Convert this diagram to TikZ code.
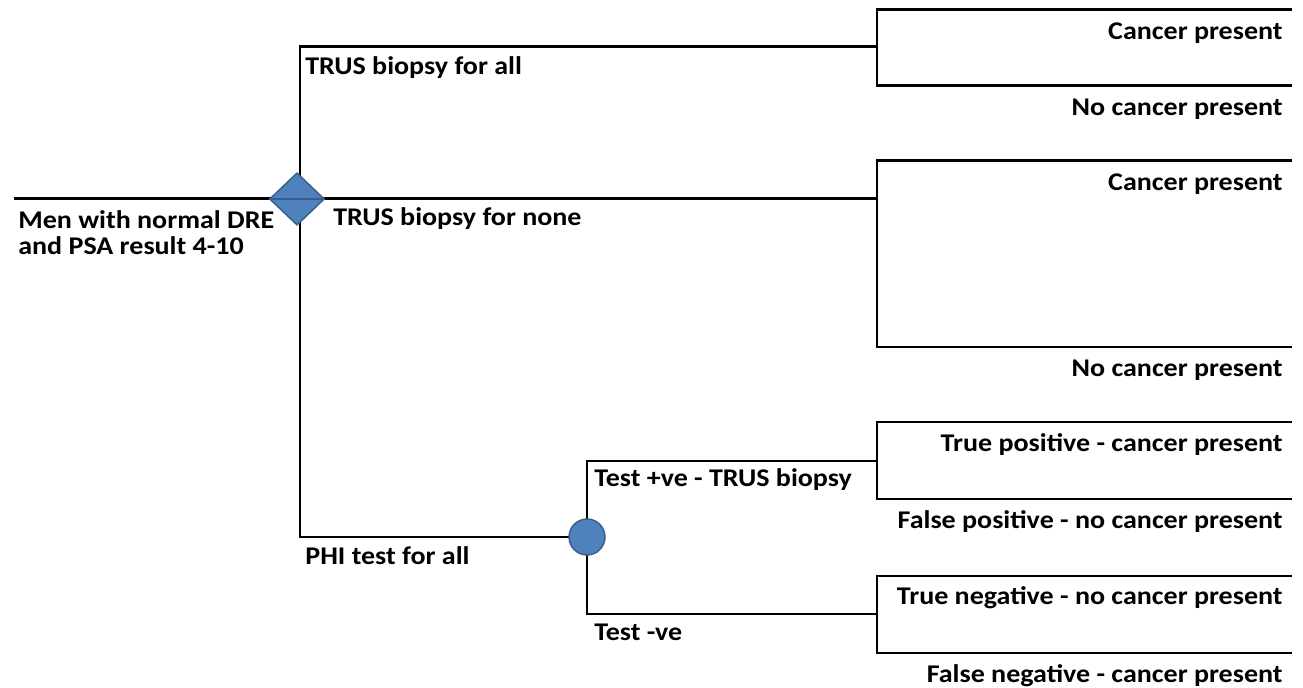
\documentclass[tikz,border=0pt]{standalone}
\usepackage{fontspec}
\setmainfont{Carlito}[FakeStretch=1.1]
\usetikzlibrary{shapes.geometric, arrows}
\tikzstyle{branch} = [line width=1.7pt,line cap=rect]
\definecolor{nodeblue}{RGB}{79,129,189}
\definecolor{decblue}{RGB}{56,93,138}

\begin{document}
\begin{tikzpicture}[x=0.02cm,y=-0.02cm,
	decision/.style={diamond, draw=decblue, line width=0.8pt, fill=nodeblue, minimum width=1.1cm, minimum height=1.05cm, inner sep=0pt},
	chance/.style={circle, draw=decblue, line width=0.8pt, fill=nodeblue, minimum size=0.72cm, inner sep=0pt},
	leftlabel/.style={anchor=base west, inner sep=0pt, font=\bfseries\fontsize{14.5}{15}\selectfont},
	rightlabel/.style={anchor=base east, inner sep=0pt, font=\bfseries\fontsize{14.5}{15}\selectfont}]
	\path[use as bounding box] (0,0) rectangle (1303,688);
	
	% tree points
	\coordinate (start) at (15,199);
	\coordinate (root) at (297,199);
	\coordinate (top) at (300,47);
	\coordinate (bot) at (300,537);
	\coordinate (phipt) at (587,537);
	\coordinate (posup) at (587,461);
	\coordinate (negdown) at (587,614);
	
	% chance points
	\coordinate (all) at (877,47);
	\coordinate (none) at (877,199);
	\coordinate (pos) at (877,461);
	\coordinate (neg) at (877,614);
	\coordinate (a1) at (1290,10);
	\coordinate (a2) at (1290,86);
	\coordinate (n1) at (1290,161);
	\coordinate (n2) at (1290,347);
	\coordinate (p1) at (1290,422);
	\coordinate (p2) at (1290,499);
	\coordinate (q1) at (1290,576);
	\coordinate (q2) at (1290,653);
	
	\draw[branch] (start) -- (root) -- (none);
	\draw[branch] (all) -- (top) -- (bot) -- (phipt);
	\draw[branch] (pos) -- (posup) -- (negdown) -- (neg);
	
	\draw[branch] (a1) -| (all) |- (a2);
	\draw[branch] (n1) -| (none) |- (n2);
	\draw[branch] (p1) -| (pos) |- (p2);
	\draw[branch] (q1) -| (neg) |- (q2);
	
	\node[decision] (dec) at (root) {};
	\draw[decblue, line width=1.2pt] (dec.west) -- (dec.east);
	\node[chance] (phi) at (phipt) {};
	
	% labels
	\node[leftlabel] (men) at (18,229) {Men with normal DRE};
	\node[leftlabel] (psa) at (18,255) {and PSA result 4-10};
	\node[leftlabel] (trusall) at (305,75) {TRUS biopsy for all};
	\node[leftlabel] (trusnone) at (333,226) {TRUS biopsy for none};
	\node[leftlabel] (phiall) at (305,565) {PHI test for all};
	\node[leftlabel] (testpos) at (594,487) {Test +ve - TRUS biopsy};
	\node[leftlabel] (testneg) at (594,641) {Test -ve};
	
	\node[rightlabel] (ca1) at (1283,39.5) {Cancer present};
	\node[rightlabel] (no1) at (1283,116) {No cancer present};
	\node[rightlabel] (ca2) at (1283,190.5) {Cancer present};
	\node[rightlabel] (no2) at (1283,376.5) {No cancer present};
	\node[rightlabel] (tp) at (1283,451.5) {True positive - cancer present};
	\node[rightlabel] (fp) at (1283,528.5) {False positive - no cancer present};
	\node[rightlabel] (tn) at (1283,605) {True negative - no cancer present};
	\node[rightlabel] (fn) at (1283,683) {False negative - cancer present};
\end{tikzpicture}
\end{document}
